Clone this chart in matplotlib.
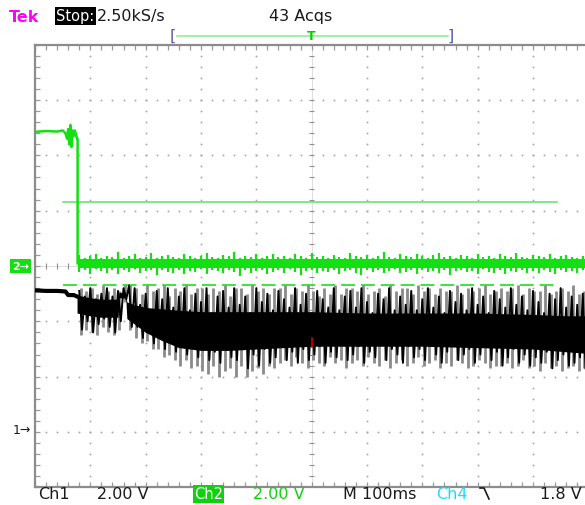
import numpy as np
import matplotlib.pyplot as plt
from matplotlib.lines import Line2D

# scope settings
volts_per_div = 2.0
ms_per_div = 100.0
ch1_offset_div = -3.0   # "1->" marker
ch2_offset_div = 0.0    # "2->" marker

# Ch1 before the switch-off (time in ms, volts)
ch1_pre_t = [-500, -480, -460, -445, -440, -430, -424]
ch1_pre_v = [5.12, 5.10, 5.10, 5.08, 4.95, 4.95, 4.90]

# Ch2 before the drop
ch2_pre_t = [-500, -480, -460, -450, -445, -442, -440, -438, -436, -434,
             -432, -430, -428, -426, -424, -423, -423]
ch2_pre_v = [4.85, 4.88, 4.86, 4.90, 4.80, 4.60, 4.95, 4.40, 5.10, 4.30,
             4.90, 4.70, 4.90, 4.75, 4.60, 4.60, 0.10]

# peak-detect columns after the drop, one every 10 ms from -420 ms
ch1_black_top = [5.1, 4.9, 5.2, 4.8, 5.0, 5.2, 4.9, 5.1, 5.2, 5.3,
                 5.2, 4.6, 5.0, 4.4, 5.1, 4.8, 5.2, 4.5, 4.9, 5.2,
                 4.4, 5.0, 4.7, 5.2, 4.3, 4.9, 5.1, 4.5, 5.2, 4.6,
                 4.9, 4.3, 5.2, 4.7, 5.0, 4.4, 5.1, 4.8, 4.5, 5.2,
                 4.6, 5.0, 4.3, 5.1, 4.8, 4.5, 5.2, 4.4, 4.9, 5.1,
                 4.5, 5.2, 4.7, 4.3, 5.0, 4.8, 5.2, 4.4, 4.9, 4.6,
                 5.1, 4.4, 4.8, 5.2, 4.5, 4.9, 4.3, 5.1, 4.7, 5.0,
                 4.4, 5.2, 4.6, 4.9, 4.3, 5.1, 4.8, 4.5, 5.2, 4.6,
                 4.9, 4.4, 5.1, 4.7, 4.3, 5.0, 4.8, 5.2, 4.5, 4.9,
                 4.6, 5.0]
ch1_black_bot = [3.7, 4.0, 3.6, 3.9, 4.1, 3.8, 3.6, 4.0, 4.8, 3.8,
                 3.8, 3.4, 3.7, 3.2, 3.5, 3.0, 3.3, 2.9, 3.2, 2.8,
                 3.1, 2.7, 3.0, 2.6, 2.9, 2.5, 3.2, 2.7, 2.6, 3.0,
                 2.3, 2.8, 2.4, 3.0, 2.5, 2.7, 3.1, 2.6, 2.9, 2.5,
                 3.0, 2.6, 2.8, 3.1, 2.5, 2.9, 2.7, 3.2, 2.6, 2.8,
                 3.1, 2.5, 2.9, 2.7, 3.2, 2.6, 3.0, 2.8, 2.5, 3.1,
                 2.7, 3.0, 2.6, 3.2, 2.8, 2.5, 2.9, 3.1, 2.6, 2.8,
                 3.0, 2.5, 2.8, 3.1, 2.6, 2.9, 2.4, 2.7, 3.0, 2.5,
                 2.8, 2.4, 2.7, 2.5, 2.9, 2.3, 2.6, 2.8, 2.4, 2.5,
                 2.7, 2.3]
ch1_grey_top = [5.2, 5.1, 5.2, 5.0, 5.3, 5.1, 5.2, 5.1, 5.3, 5.3,
                5.2, 5.0, 5.3, 5.1, 5.2, 5.3, 4.9, 5.2, 5.1, 5.3,
                5.0, 5.2, 5.2, 5.0, 5.2, 5.1, 5.3, 4.9, 5.2, 5.2,
                5.0, 5.3, 5.1, 5.2, 5.0, 5.2, 5.2, 5.3, 5.0, 5.2,
                5.1, 5.3, 5.1, 4.9, 5.2, 5.0, 5.3, 5.0, 5.2, 5.2,
                5.1, 5.3, 5.0, 5.1, 5.2, 4.9, 5.3, 5.1, 5.2, 5.2,
                5.0, 5.3, 5.1, 5.2, 5.0, 5.2, 5.1, 5.1, 5.3, 5.0,
                5.2, 5.1, 5.2, 5.3, 5.0, 5.1, 5.2, 5.1, 5.2, 5.3,
                5.0, 5.2, 5.1, 5.1, 5.3, 5.0, 5.1, 5.2, 5.1, 5.3,
                5.0, 5.1]
ch1_grey_bot = [3.5, 3.7, 3.6, 3.5, 3.8, 3.6, 3.5, 3.7, 4.7, 3.7,
                3.4, 3.2, 3.3, 3.0, 3.0, 2.7, 2.8, 2.6, 2.4, 2.6,
                2.3, 2.4, 2.2, 2.1, 2.4, 2.0, 2.2, 2.3, 2.0, 2.4,
                2.0, 2.2, 2.3, 2.1, 2.4, 2.3, 2.5, 2.6, 2.4, 2.7,
                2.5, 2.3, 2.6, 2.5, 2.4, 2.7, 2.5, 2.6, 2.3, 2.5,
                2.6, 2.4, 2.7, 2.5, 2.4, 2.6, 2.3, 2.5, 2.6, 2.4,
                2.5, 2.7, 2.4, 2.5, 2.6, 2.3, 2.5, 2.4, 2.6, 2.5,
                2.3, 2.4, 2.6, 2.5, 2.3, 2.4, 2.4, 2.5, 2.3, 2.4,
                2.6, 2.3, 2.4, 2.2, 2.5, 2.3, 2.4, 2.2, 2.3, 2.4,
                2.2, 2.3]
ch2_hi = [0.40, 0.30, 0.35, 0.45, 0.30, 0.38, 0.32, 0.50, 0.30, 0.36,
          0.42, 0.30, 0.34, 0.48, 0.30, 0.36, 0.40, 0.32, 0.30, 0.44,
          0.35, 0.30, 0.38, 0.46, 0.32, 0.30, 0.40, 0.35, 0.50, 0.30,
          0.37, 0.33, 0.42, 0.30, 0.36, 0.45, 0.31, 0.38, 0.30, 0.43,
          0.35, 0.30, 0.48, 0.33, 0.37, 0.30, 0.41, 0.34, 0.30, 0.46,
          0.36, 0.32, 0.40, 0.30, 0.38, 0.50, 0.33, 0.30, 0.42, 0.35,
          0.31, 0.44, 0.36, 0.30, 0.39, 0.47, 0.32, 0.35, 0.30, 0.41,
          0.37, 0.30, 0.45, 0.33, 0.38, 0.30, 0.42, 0.36, 0.31, 0.48,
          0.34, 0.30, 0.40, 0.37, 0.32, 0.44, 0.30, 0.36, 0.41, 0.33,
          0.30, 0.38]
ch2_lo = [-0.20, -0.15, -0.28, -0.12, -0.18, -0.25, -0.14, -0.30, -0.16, -0.22,
          -0.12, -0.26, -0.18, -0.15, -0.32, -0.14, -0.20, -0.24, -0.13, -0.28,
          -0.17, -0.22, -0.12, -0.30, -0.16, -0.19, -0.27, -0.14, -0.21, -0.35,
          -0.15, -0.24, -0.18, -0.13, -0.29, -0.20, -0.16, -0.25, -0.12, -0.22,
          -0.31, -0.17, -0.14, -0.26, -0.19, -0.23, -0.13, -0.28, -0.18, -0.15,
          -0.24, -0.33, -0.16, -0.21, -0.14, -0.27, -0.19, -0.12, -0.25, -0.20,
          -0.16, -0.29, -0.13, -0.22, -0.18, -0.26, -0.15, -0.31, -0.19, -0.14,
          -0.23, -0.17, -0.28, -0.12, -0.20, -0.25, -0.16, -0.30, -0.18, -0.22,
          -0.14, -0.27, -0.19, -0.24, -0.13, -0.21, -0.29, -0.16, -0.23, -0.18,
          -0.26, -0.15]

# solid core of the Ch1 trace (coarse outline)
body_t = [-424, -400, -380, -360, -350, -348, -336, -334, -320, -300, -270,
          -240, -200, -150, -100, 0, 100, 200, 300, 400, 460, 495]
body_hi = [4.95, 4.85, 4.80, 4.80, 4.80, 5.05, 5.05, 4.70, 4.60, 4.50, 4.45,
           4.40, 4.35, 4.35, 4.35, 4.35, 4.30, 4.30, 4.30, 4.25, 4.20, 4.20]
body_lo = [4.30, 4.20, 4.15, 4.15, 4.15, 4.85, 4.85, 4.10, 3.90, 3.60, 3.30,
           3.05, 2.95, 2.95, 3.00, 3.10, 3.10, 3.10, 3.05, 3.00, 2.90, 2.85]

ch2_band_t = [-423, 495]
ch2_band_hi = [0.24, 0.24]
ch2_band_lo = [-0.08, -0.08]

# reference levels (divisions)
level_solid = 1.16
level_dashed = -0.34
level_x = [0.5, 9.44]

col_t = -420 + 10 * np.arange(len(ch1_black_top))


def tx(t):
    return (np.asarray(t, dtype=float) + 5 * ms_per_div) / ms_per_div


def ch1(v):
    return np.asarray(v, dtype=float) / volts_per_div + ch1_offset_div


def ch2(v):
    return np.asarray(v, dtype=float) / volts_per_div + ch2_offset_div


W, H = 585, 506
fig = plt.figure(figsize=(W / 100, H / 100), dpi=100)
div_px = 55.33
ax = fig.add_axes([35 / W, (H - 45.7 - 8 * div_px) / H, 10 * div_px / W, 8 * div_px / H])
ax.set_xlim(0, 10)
ax.set_ylim(-4, 4)
for s in ax.spines.values():
    s.set_color('#8c8c8c')
    s.set_linewidth(1.6)
ax.set_xticks(np.arange(0, 10.01, 0.2))
ax.set_yticks(np.arange(-4, 4.01, 0.2))
ax.tick_params(direction='in', length=3.5, width=0.9, color='#9a9a9a',
               top=True, bottom=True, left=True, right=False,
               labelbottom=False, labelleft=False)

grid_c = '#a4a4a4'
minor = np.arange(-4, 4.01, 0.2)
for gx in range(1, 10):
    if gx != 5:
        ax.plot(np.full_like(minor, gx), minor, ls='none', marker='s', ms=1.2,
                mew=0, color=grid_c, zorder=1)
minor_x = np.arange(0, 10.01, 0.2)
for gy in range(-3, 4):
    if gy != 0:
        ax.plot(minor_x, np.full_like(minor_x, gy), ls='none', marker='s', ms=1.2,
                mew=0, color=grid_c, zorder=1)
# centre cross with its small ticks
ax.plot([5, 5], [-4, 4], color='#d0d0d0', lw=0.5, zorder=1)
ax.plot([0, 10], [0, 0], color='#d0d0d0', lw=0.5, zorder=1)
ax.hlines(minor, 5 - 0.05, 5 + 0.05, color='#909090', lw=0.8, zorder=1)
ax.vlines(minor_x, -0.05, 0.05, color='#909090', lw=0.8, zorder=1)

# reference levels
ax.plot(level_x, [level_solid, level_solid], color='#60e060', lw=1.1, zorder=2)
ax.plot(level_x, [level_dashed, level_dashed], color='#30e030', lw=1.3,
        dashes=(7.7, 3.3), zorder=2)

# Ch1 trace: persistence in grey, last acquisition in black
xc = tx(col_t)
ax.vlines(xc + 0.025, ch1(ch1_grey_bot), ch1(ch1_grey_top), color='#8a8a8a', lw=2.0, zorder=3)
ax.fill_between(tx(body_t), ch1(body_lo), ch1(body_hi), color='black', lw=0, zorder=4)
zig_x = np.column_stack([tx(col_t), tx(col_t + 5)]).ravel()
zig_y = np.column_stack([ch1(ch1_black_top), ch1(ch1_black_bot)]).ravel()
ax.plot(zig_x, zig_y, color='black', lw=1.4, zorder=4)
ax.plot(tx(ch1_pre_t), ch1(ch1_pre_v), color='black', lw=3, zorder=4)
ax.plot([5, 5], [-1.3, -1.46], color='#d00000', lw=1.2, zorder=5)

# Ch2 trace
g = '#12e012'
ax.fill_between(tx(ch2_band_t), ch2(ch2_band_lo), ch2(ch2_band_hi), color=g, lw=0, zorder=5)
ax.vlines(xc, ch2(ch2_lo), ch2(ch2_hi), color=g, lw=1.6, zorder=5)
ax.plot(tx(ch2_pre_t), ch2(ch2_pre_v), color=g, lw=1.8, zorder=5)


def fp(x, y):
    return x / W, 1 - y / H


fs = 11.5
txt = '#1a1a1a'
# header
fig.text(*fp(9, 17), 'Tek', color='#ff00ff', fontsize=fs, fontweight='bold', va='center')
fig.text(*fp(56, 17), 'Stop:', color='white', fontsize=fs - 1, va='center',
         bbox=dict(boxstyle='square,pad=0.1', fc='black', ec='none'))
fig.text(*fp(97, 17), '2.50kS/s', color=txt, fontsize=fs, va='center')
fig.text(*fp(301, 17), '43 Acqs', color=txt, fontsize=fs, va='center', ha='center')
fig.add_artist(Line2D([177 / W, 448 / W], [1 - 37 / H] * 2, color='#90f090', lw=1.2))
fig.text(*fp(173, 36), '[', color='#5a5ab0', fontsize=fs, va='center', ha='center')
fig.text(*fp(451, 36), ']', color='#5a5ab0', fontsize=fs, va='center', ha='center')
fig.text(*fp(311, 36), 'T', color='#00d000', fontsize=9, va='center', ha='center', fontweight='bold')

# channel markers
fig.text(*fp(12, 267), '2\u2192', color='white', fontsize=8, va='center', fontweight='bold',
         bbox=dict(boxstyle='square,pad=0.15', fc='#12e012', ec='none'))
fig.text(*fp(13, 431), '1\u2192', color=txt, fontsize=9, va='center')

# footer
fy = 495
fig.text(*fp(38, fy), 'Ch1', color=txt, fontsize=fs, va='center')
fig.text(*fp(97, fy), '2.00 V', color=txt, fontsize=fs, va='center')
fig.text(*fp(194, fy), 'Ch2', color='white', fontsize=fs - 1, va='center',
         bbox=dict(boxstyle='square,pad=0.1', fc='#10d010', ec='none'))
fig.text(*fp(253, fy), '2.00 V', color='#10d010', fontsize=fs, va='center')
fig.text(*fp(343, fy), 'M 100ms', color=txt, fontsize=fs, va='center')
fig.text(*fp(436, fy), 'Ch4', color='#20d8ff', fontsize=fs, va='center')
fig.add_artist(Line2D([480 / W, 484 / W, 489 / W], [1 - 489 / H, 1 - 489 / H, 1 - 500 / H],
                      color=txt, lw=1.2))
fig.text(*fp(540, fy), '1.8 V', color=txt, fontsize=fs, va='center')

fig.savefig('out.png', dpi=100, facecolor='white')
